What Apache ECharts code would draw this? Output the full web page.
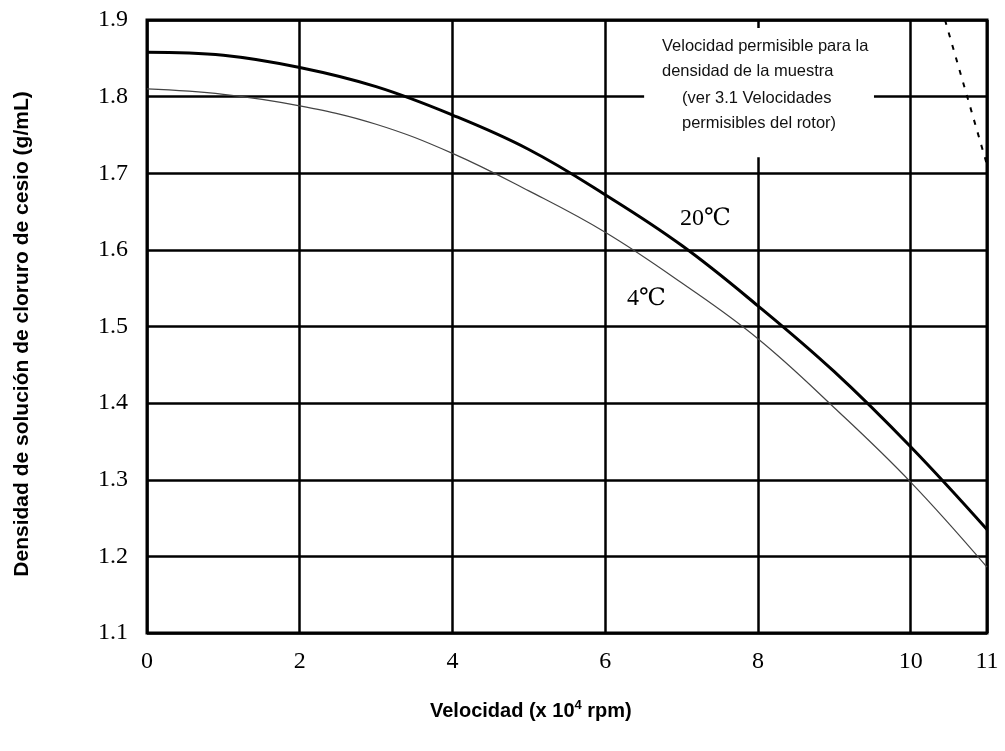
<!DOCTYPE html>
<html>
<head>
<meta charset="utf-8">
<script src="https://cdn.jsdelivr.net/npm/echarts@6/dist/echarts.min.js"></script>
<style>html,body{margin:0;padding:0;background:#fff}#c{width:1005px;height:751px}</style>
</head>
<body>
<div id="c"></div>
<script>
// Velocity (x10^4 rpm)
var speeds = [0, 1, 2, 3, 4, 5, 6, 7, 8, 9, 10, 11];
// Density at 20 °C
var dens20 = [1.858, 1.854, 1.838, 1.813, 1.776, 1.731, 1.672, 1.606, 1.527, 1.441, 1.343, 1.235];
// Density at 4 °C
var dens4 = [1.81, 1.803, 1.788, 1.764, 1.726, 1.677, 1.623, 1.557, 1.484, 1.394, 1.297, 1.186];
// Permissible speed limit (dashed)
var limitX = [10.45, 11];
var limitY = [1.9, 1.711];
// Axis ranges
var xMin = 0, xMax = 11, xStep = 2;
var yMin = 1.1, yMax = 1.9, yStep = 0.1;
// Annotation box extent (data coords)
var boxX = [6.51, 9.52];
var boxY = [1.721, 1.8895];

var noteLines = ['Velocidad permisible para la', 'densidad de la muestra', '(ver 3.1 Velocidades', 'permisibles del rotor)'];
var yTitle = 'Densidad de solución de cloruro de cesio (g/mL)';

function zip(a, b) { return a.map(function (v, i) { return [v, b[i]]; }); }

var chart = echarts.init(document.getElementById('c'));
var serif = '"Liberation Serif", "DejaVu Serif", "Noto Sans CJK JP", serif';
var sans = '"Liberation Sans", Arial, sans-serif';

chart.setOption({
  animation: false,
  backgroundColor: '#fff',
  grid: { left: 147, right: 18, top: 20, bottom: 118, show: true, borderColor: '#000', borderWidth: 3, backgroundColor: 'transparent' },
  xAxis: {
    type: 'value', min: xMin, max: xMax, interval: xStep,
    axisLine: { show: false }, axisTick: { show: false },
    splitLine: { show: true, lineStyle: { color: '#000', width: 2.5 } },
    axisLabel: { color: '#000', fontFamily: serif, fontSize: 24, margin: 17, showMaxLabel: true }
  },
  yAxis: {
    type: 'value', min: yMin, max: yMax, interval: yStep,
    axisLine: { show: false }, axisTick: { show: false },
    splitLine: { show: true, lineStyle: { color: '#000', width: 2.5 } },
    axisLabel: { color: '#000', fontFamily: serif, fontSize: 24, margin: 19, formatter: function (v) { return v.toFixed(1); } }
  },
  series: [
    {
      type: 'line', data: zip(speeds, dens20), smooth: 0.4, symbol: 'none',
      lineStyle: { color: '#000', width: 3 }, z: 5,
      markArea: {
        silent: true,
        itemStyle: { color: '#fff', opacity: 1 },
        data: [[{ coord: [boxX[0], boxY[1]] }, { coord: [boxX[1], boxY[0]] }]]
      }
    },
    {
      type: 'line', data: zip(speeds, dens4), smooth: 0.4, symbol: 'none',
      lineStyle: { color: '#444', width: 1.2 }, z: 5
    },
    {
      type: 'line', data: zip(limitX, limitY), symbol: 'none',
      lineStyle: { color: '#000', width: 2, type: [5, 8] }, z: 5
    }
  ],
  graphic: [
    { type: 'text', x: 662, y: 38, z: 20, style: { text: noteLines[0], font: '16.5px ' + sans, fill: '#111' } },
    { type: 'text', x: 662, y: 63, z: 20, style: { text: noteLines[1], font: '16.5px ' + sans, fill: '#111' } },
    { type: 'text', x: 682, y: 90, z: 20, style: { text: noteLines[2], font: '16.5px ' + sans, fill: '#111' } },
    { type: 'text', x: 682, y: 115, z: 20, style: { text: noteLines[3], font: '16.5px ' + sans, fill: '#111' } },
    { type: 'text', x: 680, y: 207, z: 20, style: { text: '20℃', font: '24px ' + serif, fill: '#000' } },
    { type: 'text', x: 627, y: 287, z: 20, style: { text: '4℃', font: '24px ' + serif, fill: '#000' } },
    {
      type: 'text', x: 22, y: 334, rotation: Math.PI / 2, z: 20,
      style: { text: yTitle, font: 'bold 21px ' + sans, fill: '#000', align: 'center', verticalAlign: 'middle' }
    },
    {
      type: 'text', x: 430, y: 699, z: 20,
      style: {
        text: '{a|Velocidad (x 10}{s|4}{a| rpm)}',
        rich: {
          a: { fontFamily: sans, fontWeight: 'bold', fontSize: 20, color: '#000' },
          s: { fontFamily: sans, fontWeight: 'bold', fontSize: 13, color: '#000', verticalAlign: 'top', padding: [0, 0, 11, 0] }
        }
      }
    }
  ]
});
</script>
</body>
</html>
